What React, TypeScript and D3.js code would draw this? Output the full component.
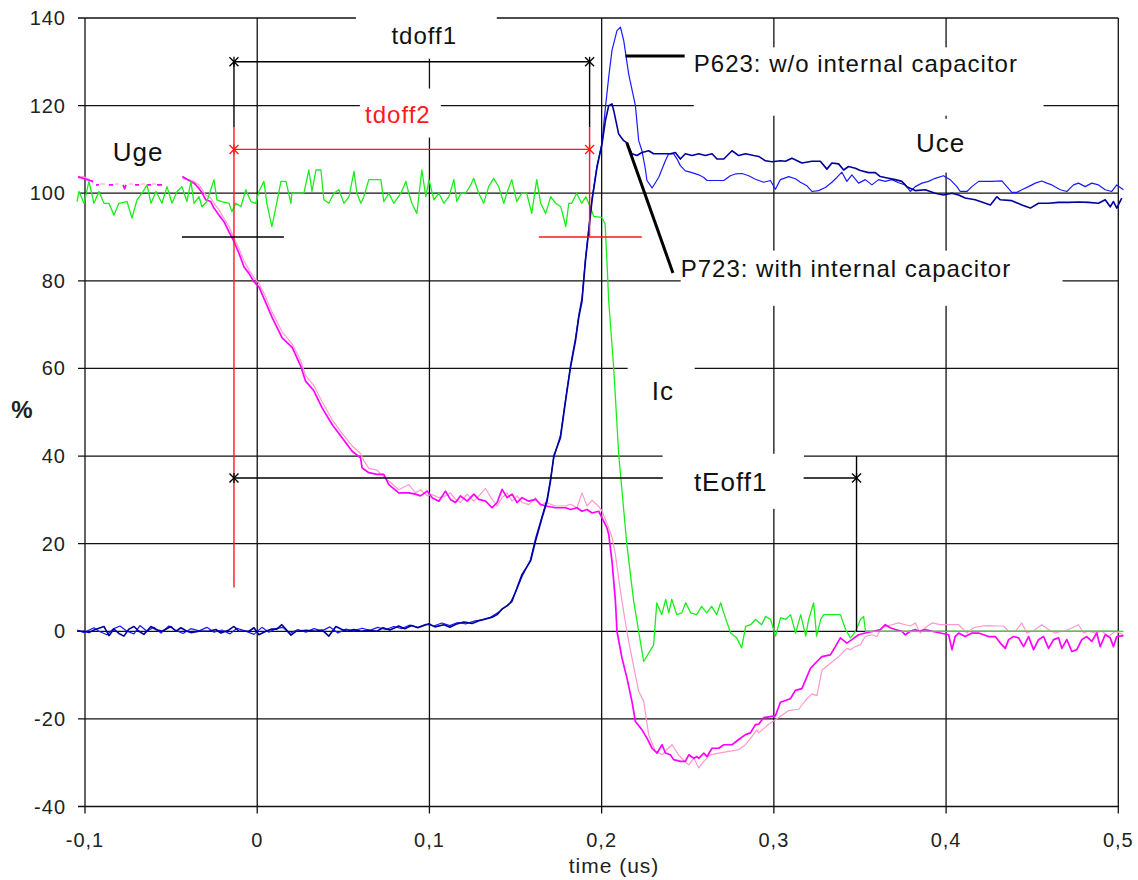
import React from 'react'
import { scaleLinear, line } from 'd3'

// axis ticks
const xTicks = [-0.1, 0, 0.1, 0.2, 0.3, 0.4, 0.5]
const xTickLabels = ['-0,1', '0', '0,1', '0,2', '0,3', '0,4', '0,5']
const yTicks = [-40, -20, 0, 20, 40, 60, 80, 100, 120, 140]

// Ic, collector current (green) [time us, %]
const icTrace = [
  [-0.1046, 98.1], [-0.1035, 100.4], [-0.1006, 97.7], [-0.0977, 102.7], [-0.0948, 97.7], [-0.0919, 100.4],
  [-0.089, 97.7], [-0.0861, 97.7], [-0.0832, 95.0], [-0.0803, 97.7], [-0.0756, 98.1], [-0.0727, 94.3],
  [-0.0698, 98.5], [-0.0669, 100.0], [-0.064, 101.9], [-0.0617, 97.7], [-0.0588, 100.4], [-0.0553, 97.7],
  [-0.0524, 101.5], [-0.0495, 97.7], [-0.0466, 100.4], [-0.0437, 101.5], [-0.0408, 98.1], [-0.0385, 102.7],
  [-0.0367, 97.7], [-0.0338, 99.2], [-0.0321, 96.9], [-0.0292, 98.1], [-0.0251, 103.1], [-0.0234, 98.5],
  [-0.0205, 98.1], [-0.0164, 97.7], [-0.0147, 95.8], [-0.0124, 97.7], [-0.0095, 96.9], [-0.0066, 100.8],
  [-0.0037, 98.1], [-0.0008, 97.7], [0.001, 100.4], [0.0039, 102.7], [0.0056, 97.7], [0.0085, 92.4],
  [0.0109, 96.9], [0.0138, 102.7], [0.0167, 102.7], [0.0196, 97.7], [0.0201, 100.0], [0.0271, 100.0],
  [0.03, 105.3], [0.0318, 100.4], [0.0341, 105.3], [0.037, 105.3], [0.0387, 98.5], [0.0416, 97.7],
  [0.0445, 100.0], [0.0474, 100.8], [0.0504, 97.7], [0.0533, 99.2], [0.0562, 105.0], [0.0579, 100.0],
  [0.0602, 97.7], [0.0619, 99.2], [0.0648, 103.1], [0.0718, 103.1], [0.0735, 98.1], [0.0764, 100.0],
  [0.0793, 97.7], [0.0834, 100.0], [0.0863, 102.7], [0.088, 100.0], [0.0898, 97.7], [0.0927, 95.4],
  [0.0956, 105.3], [0.0979, 99.2], [0.0997, 103.1], [0.1026, 98.5], [0.1055, 100.0], [0.1084, 97.7],
  [0.1113, 99.2], [0.1142, 103.1], [0.1159, 98.1], [0.1182, 100.0], [0.1211, 100.0], [0.124, 101.9],
  [0.1257, 103.4], [0.1286, 100.0], [0.1315, 97.7], [0.1344, 101.5], [0.1373, 103.4], [0.1402, 101.5],
  [0.1432, 97.7], [0.1449, 100.0], [0.1478, 103.1], [0.1507, 98.1], [0.1536, 100.0], [0.1565, 100.0],
  [0.1594, 95.4], [0.1623, 103.1], [0.1646, 97.7], [0.1675, 95.4], [0.1704, 99.2], [0.1734, 97.7],
  [0.1763, 96.9], [0.1792, 92.4], [0.1809, 97.7], [0.1826, 97.7], [0.1855, 100.0], [0.1884, 97.7],
  [0.1908, 99.2], [0.1937, 96.6], [0.1954, 94.7], [0.2, 94.5], [0.202, 93.0], [0.203, 85.0],
  [0.2041, 75.4], [0.207, 60.1], [0.2099, 40.4], [0.2146, 19.9], [0.2186, 6.9], [0.2244, -6.9],
  [0.2302, -3.1], [0.232, 6.5], [0.2349, 3.8], [0.2372, 7.3], [0.239, 4.2], [0.2407, 7.3],
  [0.2436, 3.8], [0.2465, 4.2], [0.2488, 6.5], [0.2517, 4.2], [0.2552, 3.8], [0.2581, 5.7],
  [0.261, 4.2], [0.2639, 5.7], [0.2668, 3.8], [0.2691, 6.5], [0.2709, 4.2], [0.2749, -0.4],
  [0.2784, -1.5], [0.2813, -3.8], [0.2836, 1.1], [0.2865, 1.5], [0.2894, 2.7], [0.2929, 1.5],
  [0.2952, 3.4], [0.2981, 2.7], [0.301, -1.1], [0.3039, 3.1], [0.3068, 2.7], [0.3097, 3.8],
  [0.3126, -0.4], [0.3156, 3.8], [0.3185, -1.1], [0.3202, 2.7], [0.3231, 6.5], [0.3248, -1.1],
  [0.3272, 2.7], [0.3289, 3.8], [0.3318, 3.8], [0.3387, 3.8], [0.3416, 0.4], [0.3445, -1.5],
  [0.3474, 0.0], [0.3503, 2.7], [0.3521, 3.4], [0.3532, 0.0], [0.503, 0.0],
]

// Uge, gate voltage P623 (magenta); null = gap in the recorded trace
const ugeP623 = [
  [-0.104, 103.8], [-0.1011, 103.4], [-0.0972, 102.9], [-0.0953, 102.7], [-0.095, null],
  [-0.0936, 101.9], [-0.0919, 101.9], [-0.0915, null], [-0.0861, 101.9], [-0.0837, 101.9], [-0.083, null],
  [-0.0779, 101.9], [-0.077, 101.0], [-0.0762, 101.9], [-0.0755, null], [-0.0709, 101.9], [-0.0686, 101.9],
  [-0.068, null], [-0.064, 101.9], [-0.0617, 101.9], [-0.061, null], [-0.0582, 101.9], [-0.0553, 101.9],
  [-0.055, null],
  [-0.0435, 103.8], [-0.0396, 102.9], [-0.0367, 102.3], [-0.0338, 101.1], [-0.0319, 100.0], [-0.0299, 98.5],
  [-0.027, 98.1], [-0.0251, 96.6], [-0.0222, 95.0], [-0.0193, 93.5], [-0.0164, 91.2], [-0.0139, 89.3],
  [-0.0106, 86.3], [-0.0077, 83.2], [-0.0048, 81.7], [-0.0019, 79.8], [0.001, 78.6], [0.0039, 76.0],
  [0.0087, 71.6], [0.0145, 67.0], [0.0203, 64.8], [0.0252, 60.6], [0.0281, 57.1], [0.0329, 54.9],
  [0.0377, 51.0], [0.0435, 47.2], [0.0493, 44.2], [0.0551, 41.1], [0.06, 39.6], [0.0609, 37.3],
  [0.0648, 36.2], [0.0696, 35.8], [0.0735, 35.8], [0.0764, 33.5], [0.0822, 31.6], [0.088, 31.6],
  [0.0919, 31.3], [0.0948, 30.9], [0.0987, 32.0], [0.1016, 30.5], [0.1055, 29.7], [0.1093, 32.0],
  [0.1122, 30.1], [0.1151, 29.4], [0.118, 30.9], [0.1219, 29.7], [0.1258, 31.3], [0.1287, 30.1],
  [0.1326, 29.7], [0.1364, 28.2], [0.1393, 29.4], [0.1422, 32.4], [0.1451, 30.5], [0.148, 31.3],
  [0.1509, 29.4], [0.1538, 30.5], [0.1577, 29.7], [0.1616, 30.1], [0.1645, 29.0], [0.1674, 28.6],
  [0.1732, 28.2], [0.179, 28.2], [0.1819, 27.8], [0.1857, 28.2], [0.1886, 27.4], [0.1915, 27.8],
  [0.1944, 27.0], [0.1983, 27.4], [0.2002, 25.9], [0.2031, 23.6], [0.2041, 22.1], [0.206, 16.0],
  [0.208, 6.9], [0.2089, 0.0], [0.2118, -6.1], [0.2147, -10.7], [0.2176, -16.0], [0.2196, -20.6],
  [0.2234, -22.5], [0.2263, -24.4], [0.2293, -26.7], [0.2322, -27.8], [0.2351, -25.9], [0.237, -27.8],
  [0.2399, -28.2], [0.2418, -29.3], [0.2457, -29.7], [0.2486, -29.7], [0.2506, -28.2], [0.2535, -29.0],
  [0.2554, -28.6], [0.2564, -29.0], [0.2593, -27.8], [0.2612, -28.6], [0.2641, -26.7], [0.268, -26.7],
  [0.2709, -25.9], [0.2757, -25.9], [0.2796, -24.7], [0.2835, -23.6], [0.2864, -23.2], [0.2893, -21.3],
  [0.2912, -21.2], [0.2941, -19.7], [0.3009, -19.3], [0.3038, -16.2], [0.3096, -15.4], [0.3125, -13.5],
  [0.3163, -13.1], [0.3183, -11.2], [0.3212, -8.5], [0.325, -6.9], [0.3279, -5.8], [0.3328, -5.4],
  [0.3357, -3.5], [0.3386, -1.5], [0.3424, -2.7], [0.3453, -1.9], [0.3492, -0.8], [0.3531, -0.4],
  [0.3579, 0.0], [0.3618, 0.4], [0.3647, 1.5], [0.3676, 0.8], [0.3705, 0.4], [0.3743, 0.0],
  [0.3763, -0.8], [0.3792, 0.0], [0.3821, 0.4], [0.384, 0.0], [0.3879, 0.4], [0.3918, 0.0],
  [0.3966, -0.4], [0.4015, -0.8], [0.4034, -4.2], [0.4053, -1.2], [0.4073, -0.4], [0.4111, -1.2],
  [0.415, -0.4], [0.4189, -0.4], [0.4247, -1.2], [0.4286, -1.2], [0.4315, -2.7], [0.4344, -3.9],
  [0.4363, -1.9], [0.4392, -1.2], [0.4421, -1.5], [0.445, -3.5], [0.4479, -1.2], [0.4508, -4.2],
  [0.4537, -1.9], [0.4566, -1.2], [0.4595, -3.9], [0.4624, -1.9], [0.4653, -1.5], [0.4672, -3.9],
  [0.4701, -1.9], [0.473, -4.6], [0.4759, -4.2], [0.4788, -1.9], [0.4817, -1.2], [0.4846, -2.3],
  [0.4875, -0.4], [0.4895, -3.5], [0.4924, -0.8], [0.4953, -1.5], [0.4972, -3.5], [0.4991, -1.2],
  [0.503, -1.0],
]

// Uge, gate voltage P723 (pink)
const ugeP723 = [
  [-0.104, 103.4], [-0.1011, 103.8], [-0.0972, 103.1], [-0.0953, 102.3], [-0.0948, null],
  [-0.0913, 102.1], [-0.0884, 102.1], [-0.088, null], [-0.0826, 102.1], [-0.0803, 102.1], [-0.0798, null],
  [-0.0745, 102.1], [-0.0721, 102.1], [-0.0715, null], [-0.0675, 102.1], [-0.0652, 102.1], [-0.0648, null],
  [-0.0611, 102.1], [-0.0588, 102.1], [-0.0584, null],
  [-0.0435, 103.4], [-0.0396, 103.1], [-0.0367, 102.7], [-0.0338, 101.9], [-0.0319, 100.8], [-0.0299, 99.6],
  [-0.027, 98.9], [-0.0251, 97.7], [-0.0222, 96.2], [-0.0193, 94.3], [-0.0164, 92.4], [-0.0139, 90.1],
  [-0.0106, 87.4], [-0.0077, 84.6], [-0.0048, 82.5], [-0.0019, 80.8], [0.001, 79.4], [0.0039, 77.2],
  [0.0087, 72.8], [0.0145, 68.3], [0.0203, 65.6], [0.0252, 61.8], [0.0281, 58.4], [0.0329, 56.1],
  [0.0377, 52.4], [0.0435, 48.3], [0.0493, 45.2], [0.0551, 42.3], [0.06, 40.6], [0.062, 38.9],
  [0.0648, 37.2], [0.0696, 36.8], [0.0735, 35.2], [0.0764, 34.3], [0.0822, 32.3], [0.088, 33.5],
  [0.0919, 31.6], [0.0948, 32.3], [0.0987, 30.9], [0.1016, 31.2], [0.1055, 30.5], [0.1093, 30.9],
  [0.1122, 31.6], [0.1151, 30.1], [0.118, 29.4], [0.1219, 31.3], [0.1258, 29.7], [0.1287, 30.9],
  [0.1326, 32.6], [0.1364, 30.1], [0.1393, 28.6], [0.1422, 30.5], [0.1451, 31.6], [0.148, 29.7],
  [0.1509, 30.9], [0.1538, 29.4], [0.1577, 28.9], [0.1616, 30.5], [0.1645, 28.6], [0.1674, 29.4],
  [0.1732, 28.6], [0.179, 28.6], [0.1819, 29.0], [0.1857, 28.2], [0.1886, 31.6], [0.1915, 28.6],
  [0.1944, 29.9], [0.1983, 28.5], [0.2002, 27.5], [0.2022, 25.5], [0.2041, 23.6], [0.206, 21.5],
  [0.208, 17.5], [0.2099, 12.0], [0.2118, 6.9], [0.2138, 2.0], [0.2157, -2.3], [0.2186, -8.0],
  [0.2215, -13.7], [0.2244, -16.0], [0.2273, -23.6], [0.2312, -27.4], [0.2351, -28.2], [0.2378, -27.0],
  [0.2409, -25.9], [0.2447, -28.2], [0.2477, -29.5], [0.2506, -30.5], [0.2535, -29.0], [0.2564, -31.2],
  [0.2593, -29.7], [0.2631, -28.2], [0.268, -27.8], [0.2738, -27.4], [0.2796, -27.0], [0.2835, -25.9],
  [0.2873, -24.0], [0.2902, -22.5], [0.2912, -23.2], [0.297, -21.2], [0.3028, -19.7], [0.3086, -18.1],
  [0.3144, -17.8], [0.3183, -15.8], [0.3221, -14.3], [0.325, -14.7], [0.3279, -8.9], [0.3328, -7.3],
  [0.3376, -5.8], [0.3424, -3.9], [0.3444, -4.2], [0.3473, -3.5], [0.3502, -3.1], [0.3531, -1.2],
  [0.3569, -0.8], [0.3598, -1.2], [0.3627, 0.8], [0.3656, 1.2], [0.3685, 1.5], [0.3724, 1.9],
  [0.3763, 1.5], [0.3792, 1.2], [0.3821, 1.9], [0.385, -0.4], [0.3879, 0.8], [0.3918, 1.9],
  [0.3966, 1.5], [0.4024, 1.5], [0.4073, 1.5], [0.4121, -0.4], [0.416, 0.8], [0.4208, 1.2],
  [0.4247, 1.3], [0.4295, 1.2], [0.4334, 1.2], [0.4363, 0.0], [0.4402, 0.0], [0.444, 1.9],
  [0.4469, -0.4], [0.4518, 0.4], [0.4556, 1.5], [0.4595, 0.4], [0.4634, -0.4], [0.4672, 0.0],
  [0.4711, 0.4], [0.4769, 1.5], [0.4798, -0.4], [0.4827, 0.0], [0.4866, -0.4], [0.4905, 0.0],
  [0.4944, -1.2], [0.4982, 0.0], [0.503, -0.8],
]

// Uce, collector-emitter voltage P723 with internal capacitor (dark blue)
const uceP723 = [
  [-0.1046, 0.0], [-0.1006, 0.0], [-0.0977, -0.3], [-0.0948, 0.3], [-0.089, 1.1], [-0.0861, -1.0],
  [-0.0832, 0.5], [-0.0803, -0.5], [-0.0774, -1.1], [-0.0745, 0.5], [-0.0716, 1.1], [-0.0687, 0.0],
  [-0.0658, -0.7], [-0.0617, 1.1], [-0.0588, 0.4], [-0.0553, 0.0], [-0.0501, 1.1], [-0.0472, 0.0],
  [-0.0443, 0.8], [-0.0408, 0.0], [-0.0385, -0.3], [-0.0338, 0.0], [-0.028, 0.0], [-0.024, 0.4],
  [-0.0211, -0.4], [-0.0164, 0.3], [-0.0135, 1.1], [-0.0106, 0.0], [-0.0048, 0.0], [-0.0019, 0.8],
  [0.001, -0.8], [0.005, 0.0], [0.0085, 0.5], [0.0114, 0.5], [0.0143, 1.5], [0.0172, 0.2],
  [0.0196, -0.9], [0.0225, 0.0], [0.0283, 0.2], [0.0341, 0.0], [0.0376, 0.3], [0.0416, -1.1],
  [0.0457, 1.1], [0.0492, 0.4], [0.0521, 0.0], [0.0561, 0.4], [0.0602, 0.0], [0.0648, 0.2],
  [0.0695, 0.0], [0.073, 0.8], [0.077, 0.3], [0.0822, 1.2], [0.0857, 0.6], [0.0897, 1.3],
  [0.0932, 0.8], [0.0997, 1.7], [0.1032, 1.0], [0.1084, 1.5], [0.1119, 0.9], [0.1154, 1.6],
  [0.12, 2.1], [0.1247, 1.8], [0.1288, 2.4], [0.1327, 2.8], [0.1364, 3.2], [0.1393, 3.8],
  [0.1422, 5.1], [0.1451, 5.8], [0.148, 6.9], [0.1538, 13.0], [0.1587, 16.0], [0.1616, 20.6],
  [0.1654, 25.9], [0.1683, 29.7], [0.1703, 34.3], [0.1722, 40.0], [0.1761, 44.2], [0.178, 49.6],
  [0.1799, 54.9], [0.1819, 60.2], [0.1828, 62.1], [0.1848, 66.3], [0.1867, 71.6], [0.1886, 75.4],
  [0.1906, 84.6], [0.1925, 91.4], [0.1944, 98.3], [0.1973, 105.9], [0.2002, 111.2], [0.2022, 116.6],
  [0.2041, 120.0], [0.206, 120.4], [0.207, 118.9], [0.2099, 113.5], [0.2128, 112.0], [0.2147, 111.5],
  [0.2176, 109.0], [0.2205, 108.6], [0.2234, 109.3], [0.2273, 109.7], [0.2302, 109.0], [0.2331, 109.0],
  [0.237, 109.0], [0.2399, 109.0], [0.2428, 109.3], [0.2457, 107.8], [0.2486, 109.0], [0.2525, 108.6],
  [0.2564, 109.0], [0.2602, 108.6], [0.2641, 109.0], [0.267, 107.8], [0.2709, 107.8], [0.2757, 109.7],
  [0.2796, 108.6], [0.2835, 109.0], [0.2883, 108.6], [0.2912, 108.4], [0.2951, 107.4], [0.2989, 107.2],
  [0.3038, 107.4], [0.3067, 107.3], [0.3105, 108.0], [0.3163, 106.9], [0.3221, 107.3], [0.327, 107.3],
  [0.3308, 105.5], [0.3337, 106.9], [0.3376, 106.7], [0.3405, 105.3], [0.3434, 106.1], [0.3473, 105.7],
  [0.3502, 105.2], [0.355, 104.7], [0.3589, 104.7], [0.3618, 103.8], [0.3666, 103.4], [0.3705, 103.1],
  [0.3743, 102.7], [0.3772, 101.5], [0.3821, 100.6], [0.3879, 100.8], [0.3937, 100.0], [0.3985, 99.6],
  [0.4034, 100.0], [0.4073, 99.6], [0.4111, 98.9], [0.4169, 98.5], [0.4228, 97.7], [0.4257, 97.3],
  [0.4295, 99.2], [0.4315, 98.5], [0.4382, 98.3], [0.444, 97.3], [0.4489, 96.6], [0.4537, 97.7],
  [0.4595, 97.7], [0.4653, 97.9], [0.4711, 97.9], [0.4769, 98.0], [0.4827, 97.9], [0.4885, 97.7],
  [0.4924, 98.5], [0.4953, 96.9], [0.4972, 98.1], [0.4991, 96.6], [0.502, 98.9],
]

// Uce, collector-emitter voltage P623 without internal capacitor (blue)
const uceP623 = [
  [-0.1046, 0.3], [-0.1006, -0.3], [-0.0948, 0.8], [-0.0919, 0.0], [-0.0873, -0.8], [-0.0838, 0.5],
  [-0.0797, 1.2], [-0.0756, 0.0], [-0.0716, -0.6], [-0.0681, 1.3], [-0.064, 0.0], [-0.06, 0.9],
  [-0.0559, -0.4], [-0.0513, 1.2], [-0.0472, 0.2], [-0.0431, -0.5], [-0.0385, 0.6], [-0.0338, 0.1],
  [-0.0292, 0.9], [-0.0251, -0.2], [-0.0205, 0.3], [-0.0158, -0.6], [-0.0118, 0.7], [-0.0071, 0.1],
  [-0.0019, -0.7], [0.0027, 0.9], [0.0068, -0.2], [0.0108, 0.6], [0.0149, 0.9], [0.019, -0.5],
  [0.0236, 0.4], [0.0283, -0.2], [0.0329, 0.6], [0.0376, 0.1], [0.0422, 1.0], [0.0469, -0.4],
  [0.0515, 0.5], [0.0561, 0.1], [0.0608, 0.7], [0.0654, 0.2], [0.07, 0.9], [0.0747, 0.4],
  [0.0793, 1.1], [0.084, 0.6], [0.0886, 1.4], [0.0932, 0.9], [0.0979, 1.6], [0.1025, 1.2],
  [0.1072, 1.9], [0.1118, 1.3], [0.1164, 2.0], [0.1211, 1.7], [0.1257, 2.3], [0.1303, 2.6],
  [0.135, 3.1], [0.1396, 4.2], [0.1432, 5.3], [0.1468, 6.4], [0.15, 8.9], [0.1538, 12.5],
  [0.1587, 16.4], [0.1616, 21.2], [0.1654, 26.3], [0.1683, 30.2], [0.1703, 34.8], [0.1722, 39.6],
  [0.1761, 44.8], [0.178, 50.1], [0.1799, 55.3], [0.1819, 60.6], [0.1848, 66.9], [0.1867, 72.1],
  [0.1886, 76.2], [0.1906, 85.1], [0.1925, 92.0], [0.1944, 98.8], [0.1973, 106.3], [0.2002, 111.5],
  [0.2022, 119.6], [0.2041, 126.5], [0.206, 132.6], [0.2089, 137.1], [0.2109, 137.9], [0.2128, 134.9],
  [0.2157, 127.2], [0.2196, 120.0], [0.2215, 112.0], [0.2234, 109.7], [0.2254, 105.5], [0.2263, 102.9],
  [0.2293, 101.2], [0.2331, 103.6], [0.237, 107.4], [0.2389, 109.0], [0.2418, 109.0], [0.2438, 107.8],
  [0.2457, 106.3], [0.2486, 105.1], [0.2515, 104.8], [0.2564, 104.2], [0.2593, 103.6], [0.2612, 102.9],
  [0.2641, 102.9], [0.2709, 102.9], [0.2747, 104.0], [0.2777, 104.4], [0.2815, 104.5], [0.2854, 104.0],
  [0.2893, 103.2], [0.2941, 102.5], [0.298, 102.9], [0.3009, 100.9], [0.3038, 103.1], [0.3086, 103.8],
  [0.3125, 103.3], [0.3154, 102.5], [0.3192, 101.7], [0.3221, 100.4], [0.326, 100.6], [0.3299, 101.3],
  [0.3337, 102.5], [0.3366, 103.6], [0.3395, 104.8], [0.3424, 102.7], [0.3453, 104.2], [0.3492, 102.3],
  [0.3531, 103.1], [0.3569, 101.9], [0.3608, 103.1], [0.3647, 102.7], [0.3685, 103.1], [0.3724, 102.4],
  [0.3763, 101.9], [0.3792, 100.4], [0.3821, 101.5], [0.386, 102.3], [0.3898, 102.7], [0.3937, 103.4],
  [0.3985, 104.0], [0.4024, 103.1], [0.4063, 101.5], [0.4082, 100.4], [0.4121, 100.4], [0.415, 101.5],
  [0.4189, 102.7], [0.4266, 102.7], [0.4324, 102.8], [0.4353, 101.5], [0.4382, 100.2], [0.4411, 100.2],
  [0.444, 100.8], [0.4479, 101.5], [0.4518, 102.3], [0.4556, 102.8], [0.4585, 102.3], [0.4614, 101.9],
  [0.4663, 100.8], [0.4701, 100.4], [0.474, 101.9], [0.4769, 102.3], [0.4808, 101.5], [0.4846, 102.3],
  [0.4885, 101.9], [0.4924, 100.8], [0.4962, 100.4], [0.4991, 101.9], [0.503, 100.8],
]

// measurement markers (tdoff1, tdoff2, 90% levels, tEoff1)
const markerLines = [
  { from: [-0.0135, 130], to: [0.193, 130], color: '#000' },
  { from: [-0.0135, 130], to: [-0.0135, 115], color: '#000' },
  { from: [0.193, 130], to: [0.193, 115], color: '#000' },
  { from: [-0.0135, 115], to: [-0.0135, 10], color: '#ff1a1a' },
  { from: [0.193, 115], to: [0.193, 90], color: '#ff1a1a' },
  { from: [-0.0135, 110], to: [0.193, 110], color: '#ff1a1a' },
  { from: [-0.0437, 90], to: [0.0155, 90], color: '#000' },
  { from: [0.1635, 90], to: [0.2233, 90], color: '#ff1a1a' },
  { from: [-0.0135, 35], to: [0.348, 35], color: '#000' },
  { from: [0.348, 40], to: [0.348, 0], color: '#000' },
]
const markerStars = [
  { at: [-0.0135, 130], color: '#000' },
  { at: [0.193, 130], color: '#000' },
  { at: [-0.0135, 110], color: '#ff1a1a' },
  { at: [0.193, 110], color: '#ff1a1a' },
  { at: [-0.0135, 35], color: '#000' },
  { at: [0.348, 35], color: '#000' },
]
const leaderLines = [
  { from: [0.2139, 131.3], to: [0.2482, 131.3] },
  { from: [0.2146, 111.5], to: [0.2414, 81.8] },
]

// text labels: anchor point (t, v) and the white patch [t0, t1, vTop, vBottom] behind them
const labels = [
  { text: 'tdoff1', t: 0.097, v: 134.1, anchor: 'middle', size: 24, color: '#111', box: [0.0573, 0.1391, 143, 130.7] },
  { text: 'tdoff2', t: 0.0817, v: 116.0, anchor: 'middle', size: 24, color: '#ff1a1a', box: [0.0596, 0.1066, 123.9, 112.7] },
  { text: 'P623: w/o internal capacitor', t: 0.2535, v: 127.7, anchor: 'start', size: 24, color: '#111', box: [0.2535, 0.4566, 133.3, 117.7] },
  { text: 'Uce', t: 0.3968, v: 109.4, anchor: 'middle', size: 26, color: '#111', box: [0.3753, 0.4218, 117.0, 104.7] },
  { text: 'P723: with internal capacitor', t: 0.2459, v: 80.9, anchor: 'start', size: 24, color: '#111', box: [0.2459, 0.4676, 86.9, 74.3] },
  { text: 'Ic', t: 0.2355, v: 52.8, anchor: 'middle', size: 26, color: '#111', box: [0.2151, 0.254, 62.9, 48.0] },
  { text: 'tEoff1', t: 0.2749, v: 32.0, anchor: 'middle', size: 26, color: '#111', box: [0.2355, 0.3173, 40.5, 28.0] },
  { text: 'Uge', t: -0.0692, v: 107.4, anchor: 'middle', size: 26, color: '#111', box: null },
]

const font = "'Liberation Sans', Arial, sans-serif"

export default function App() {
  const width = 1138
  const height = 880
  const x = scaleLinear().domain([-0.1, 0.5]).range([85, 1118.3])
  const y = scaleLinear().domain([-40, 140]).range([806.5, 18])

  const path = line()
    .defined(d => d[1] !== null)
    .x(d => x(d[0]))
    .y(d => y(d[1]))

  const series = [
    { data: ugeP723, color: '#ff99cc', w: 1.2 },
    { data: ugeP623, color: '#ff00ff', w: 1.7 },
    { data: icTrace, color: '#1aee1a', w: 1.3 },
    { data: uceP623, color: '#1a1aff', w: 1.2 },
    { data: uceP723, color: '#00009c', w: 1.6 },
  ]

  const boxRect = (b, key) => (
    <rect key={key} x={x(b[0])} y={y(b[2])} width={x(b[1]) - x(b[0])} height={y(b[3]) - y(b[2])} fill="#fff" />
  )

  return (
    <svg width={width} height={height} style={{ position: 'absolute', left: 0, top: 0, background: '#fff' }}
      fontFamily={font}>
      {/* grid */}
      <g stroke="#111" strokeWidth={1.3}>
        {yTicks.map(v => (
          <line key={'h' + v} x1={x(-0.1) - 7} x2={x(0.5)} y1={y(v)} y2={y(v)} />
        ))}
        {xTicks.map(t => (
          <line key={'v' + t} x1={x(t)} x2={x(t)} y1={y(140)} y2={y(-40) + 7} />
        ))}
      </g>
      {/* patches behind labels */}
      {labels.filter(l => l.box).map((l, i) => boxRect(l.box, 'b' + i))}

      {/* traces */}
      {series.map((s, i) => (
        <path key={'s' + i} d={path(s.data)} fill="none" stroke={s.color} strokeWidth={s.w} strokeLinejoin="round" />
      ))}

      {/* markers */}
      {markerLines.map((m, i) => (
        <line key={'m' + i} x1={x(m.from[0])} y1={y(m.from[1])} x2={x(m.to[0])} y2={y(m.to[1])}
          stroke={m.color} strokeWidth={1.4} />
      ))}
      {labels.filter(l => l.text === 'tEoff1').map((l, i) => boxRect(l.box, 'c' + i))}
      {markerStars.map((s, i) => {
        const cx = x(s.at[0])
        const cy = y(s.at[1])
        return (
          <g key={'st' + i} stroke={s.color} strokeWidth={1.3}>
            <line x1={cx - 4.5} y1={cy - 4.5} x2={cx + 4.5} y2={cy + 4.5} />
            <line x1={cx - 4.5} y1={cy + 4.5} x2={cx + 4.5} y2={cy - 4.5} />
            <line x1={cx} y1={cy - 5} x2={cx} y2={cy + 5} />
          </g>
        )
      })}
      {leaderLines.map((l, i) => (
        <line key={'l' + i} x1={x(l.from[0])} y1={y(l.from[1])} x2={x(l.to[0])} y2={y(l.to[1])}
          stroke="#000" strokeWidth={3} />
      ))}

      {/* labels */}
      {labels.map((l, i) => (
        <text key={'t' + i} x={x(l.t)} y={y(l.v)} textAnchor={l.anchor} fontSize={l.size} fill={l.color}
          letterSpacing={1}>
          {l.text}
        </text>
      ))}

      {/* axes labels */}
      {yTicks.map(v => (
        <text key={'yl' + v} x={x(-0.1) - 19} y={y(v) + 7} textAnchor="end" fontSize={20} fill="#222" letterSpacing={1}>
          {v}
        </text>
      ))}
      {xTicks.map((t, i) => (
        <text key={'xl' + t} x={x(t)} y={847} textAnchor="middle" fontSize={20} fill="#222" letterSpacing={1}>
          {xTickLabels[i]}
        </text>
      ))}
      <text x={614} y={873} textAnchor="middle" fontSize={21} fill="#222" letterSpacing={1}>time (us)</text>
      <text x={22} y={418} textAnchor="middle" fontSize={24} fontWeight="bold" fill="#222">%</text>
    </svg>
  )
}
